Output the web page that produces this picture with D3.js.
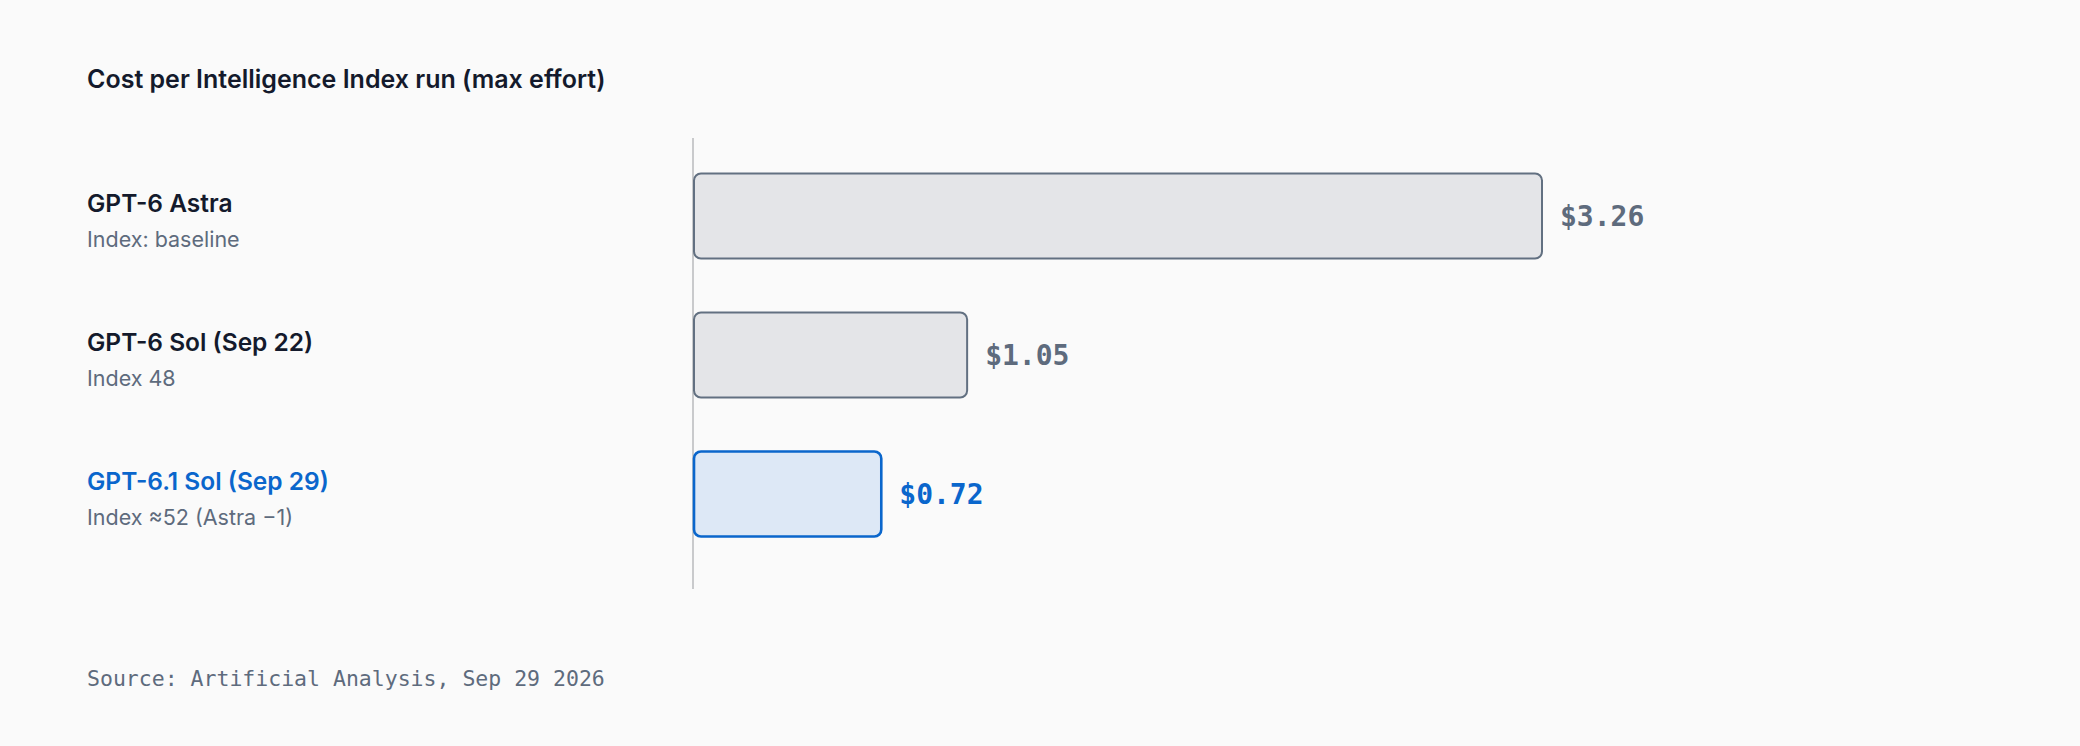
<!DOCTYPE html>
<html>
<head>
<meta charset="utf-8">
<script src="https://cdn.jsdelivr.net/npm/d3@7"></script>
<style>
  html, body { margin: 0; padding: 0; background: #fafafa; }
  svg { display: block; }
</style>
</head>
<body>
<div id="chart"></div>
<script>
// data
var models = ["GPT-6 Astra", "GPT-6 Sol (Sep 22)", "GPT-6.1 Sol (Sep 29)"];
var notes = ["Index: baseline", "Index 48", "Index \u224852 (Astra \u22121)"];
var costs = [3.26, 1.05, 0.72];
var highlight = [false, false, true];

var title = "Cost per Intelligence Index run (max effort)";
var source = "Source: Artificial Analysis, Sep 29 2026";

var w = 2080, h = 746;
var sans = "Inter, 'Noto Sans', sans-serif";
var mono = "'DejaVu Sans Mono', 'Liberation Mono', monospace";

var svg = d3.select("#chart").append("svg")
    .attr("width", w)
    .attr("height", h);

svg.append("rect").attr("width", w).attr("height", h).attr("fill", "#fafafa");

var x = d3.scaleLinear()
    .domain([0, 3.26])
    .range([694, 1542]);

var y = d3.scaleBand()
    .domain(models)
    .range([146.5, 563.5])
    .paddingInner(0.374)
    .paddingOuter(0.187);

var rows = models.map(function (m, i) {
    return {name: m, note: notes[i], cost: costs[i], hi: highlight[i]};
});

svg.append("text")
    .attr("x", 87)
    .attr("y", 87.5)
    .attr("font-family", sans)
    .attr("font-weight", 600)
    .attr("font-size", 25)
    .attr("fill", "#141a2c")
    .text(title);

// baseline axis
svg.append("line")
    .attr("x1", x(0) - 1).attr("x2", x(0) - 1)
    .attr("y1", 138).attr("y2", 589)
    .attr("stroke", "#c9cacc")
    .attr("stroke-width", 2);

var row = svg.selectAll(".row")
    .data(rows)
    .enter()
    .append("g")
    .attr("class", "row");

row.append("rect")
    .attr("x", x(0))
    .attr("y", function (d) { return y(d.name) + 1; })
    .attr("width", function (d) { return x(d.cost) - x(0); })
    .attr("height", y.bandwidth() - 2)
    .attr("rx", 7)
    .attr("fill", function (d) { return d.hi ? "#dde8f6" : "#e4e5e8"; })
    .attr("stroke", function (d) { return d.hi ? "#0a66cc" : "#627081"; })
    .attr("stroke-width", function (d) { return d.hi ? 2.6 : 2; });

row.append("text")
    .attr("x", function (d) { return x(d.cost) + 18; })
    .attr("y", function (d) { return y(d.name) + y.bandwidth() / 2; })
    .attr("dy", "0.36em")
    .attr("font-family", mono)
    .attr("font-weight", 700)
    .attr("font-size", 28)
    .attr("fill", function (d) { return d.hi ? "#0a66cc" : "#5e6b7d"; })
    .text(function (d) { return "$" + d3.format(".2f")(d.cost); });

row.append("text")
    .attr("x", 87)
    .attr("y", function (d) { return y(d.name) + y.bandwidth() / 2 - 4; })
    .attr("font-family", sans)
    .attr("font-weight", 600)
    .attr("font-size", 24.5)
    .attr("fill", function (d) { return d.hi ? "#0a66cc" : "#141a2c"; })
    .text(function (d) { return d.name; });

row.append("text")
    .attr("x", 87)
    .attr("y", function (d) { return y(d.name) + y.bandwidth() / 2 + 31; })
    .attr("font-family", sans)
    .attr("font-size", 21.5)
    .attr("fill", "#5e6b7d")
    .text(function (d) { return d.note; });

svg.append("text")
    .attr("x", 87)
    .attr("y", 686)
    .attr("font-family", mono)
    .attr("font-size", 21.5)
    .attr("fill", "#5e6b7d")
    .text(source);
</script>
</body>
</html>
